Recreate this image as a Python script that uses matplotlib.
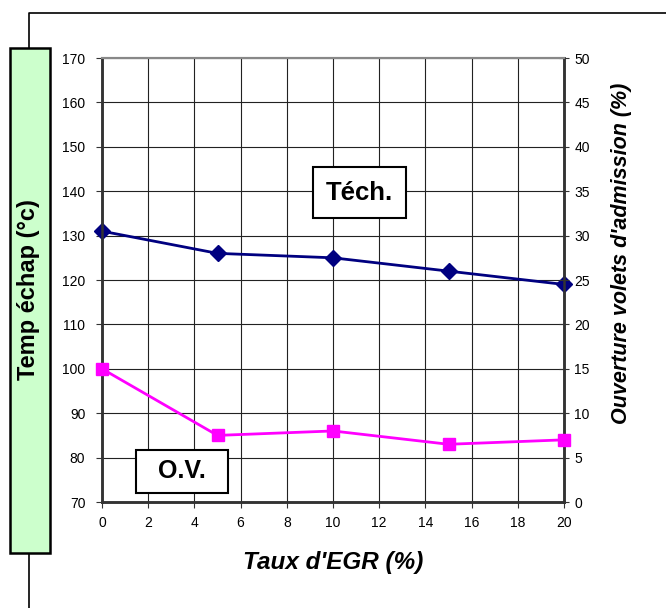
import numpy as np
import matplotlib.pyplot as plt
from matplotlib.patches import Rectangle
from matplotlib.lines import Line2D

plt.rcParams['font.family'] = ['Liberation Sans', 'DejaVu Sans']

taux_egr = [0, 5, 10, 15, 20]
temp_echap = [131, 126, 125, 122, 119]
ouverture = [15, 7.5, 8, 6.5, 7]

W, H = 666, 608
fig = plt.figure(figsize=(W/100, H/100), dpi=100)

def fx(px):
  return px/W

def fy(py):
  return 1 - py/H

# outer frame (partly visible)
fig.add_artist(Line2D([fx(29), fx(29), fx(W+5)], [fy(H+5), fy(12.5), fy(12.5)],
                      color='black', lw=1.2))

ax = fig.add_axes([fx(102), fy(502), fx(564)-fx(102), fy(58)-fy(502)])
ax2 = ax.twinx()

ax.set_xlim(0, 20)
ax.set_ylim(70, 170)
ax2.set_ylim(0, 50)
ax.set_xticks(np.arange(0, 21, 2))
ax.set_yticks(np.arange(70, 171, 10))
ax2.set_yticks(np.arange(0, 51, 5))
ax.grid(True, color='#222222', lw=0.8)
ax.set_axisbelow(True)

for a in (ax, ax2):
  a.spines['top'].set_color('#888888')
  a.spines['top'].set_linewidth(1.5)
  for s in ('left', 'right', 'bottom'):
    a.spines[s].set_color('#333333')
    a.spines[s].set_linewidth(1.8)

ax.tick_params(axis='both', labelsize=10, length=4, width=0.8, color='#333333')
ax.tick_params(axis='x', pad=6)
ax.tick_params(axis='y', pad=8)
ax2.tick_params(axis='y', direction='inout', labelsize=10, length=7, width=0.8,
                color='#333333', pad=4)

ax.plot(taux_egr, temp_echap, color='#000080', lw=2, marker='D', ms=8, zorder=5, clip_on=False)
ax2.plot(taux_egr, ouverture, color='#FF00FF', lw=2, marker='s', ms=9, zorder=5, clip_on=False)

fig.text(fx(333), fy(562), "Taux d'EGR (%)", fontsize=17.5, fontweight='bold', style='italic',
         ha='center', va='center')
fig.text(fx(621), fy(253), "Ouverture volets d'admission (%)", fontsize=15.5, fontweight='bold',
         style='italic', rotation=90, ha='center', va='center')

# annotation boxes
fig.add_artist(Rectangle((fx(313), fy(218)), fx(406)-fx(313), fy(167)-fy(218),
                         facecolor='white', edgecolor='black', lw=1.5))
fig.text(fx(359.5), fy(192.5), 'Téch.', fontsize=18.5, fontweight='bold', ha='center', va='center')
fig.add_artist(Rectangle((fx(136), fy(493)), fx(228)-fx(136), fy(450)-fy(493),
                         facecolor='white', edgecolor='black', lw=1.5))
fig.text(fx(182), fy(471.5), 'O.V.', fontsize=18, fontweight='bold', ha='center', va='center')

# left green label box
fig.add_artist(Rectangle((fx(10), fy(553)), fx(50)-fx(10), fy(48)-fy(553),
                         facecolor='#CCFFCC', edgecolor='black', lw=1.8, zorder=3))
fig.text(fx(29), fy(290), 'Temp échap (°c)', fontsize=17, fontweight='bold',
         rotation=90, ha='center', va='center', zorder=4)

fig.savefig('out.png', dpi=100)
